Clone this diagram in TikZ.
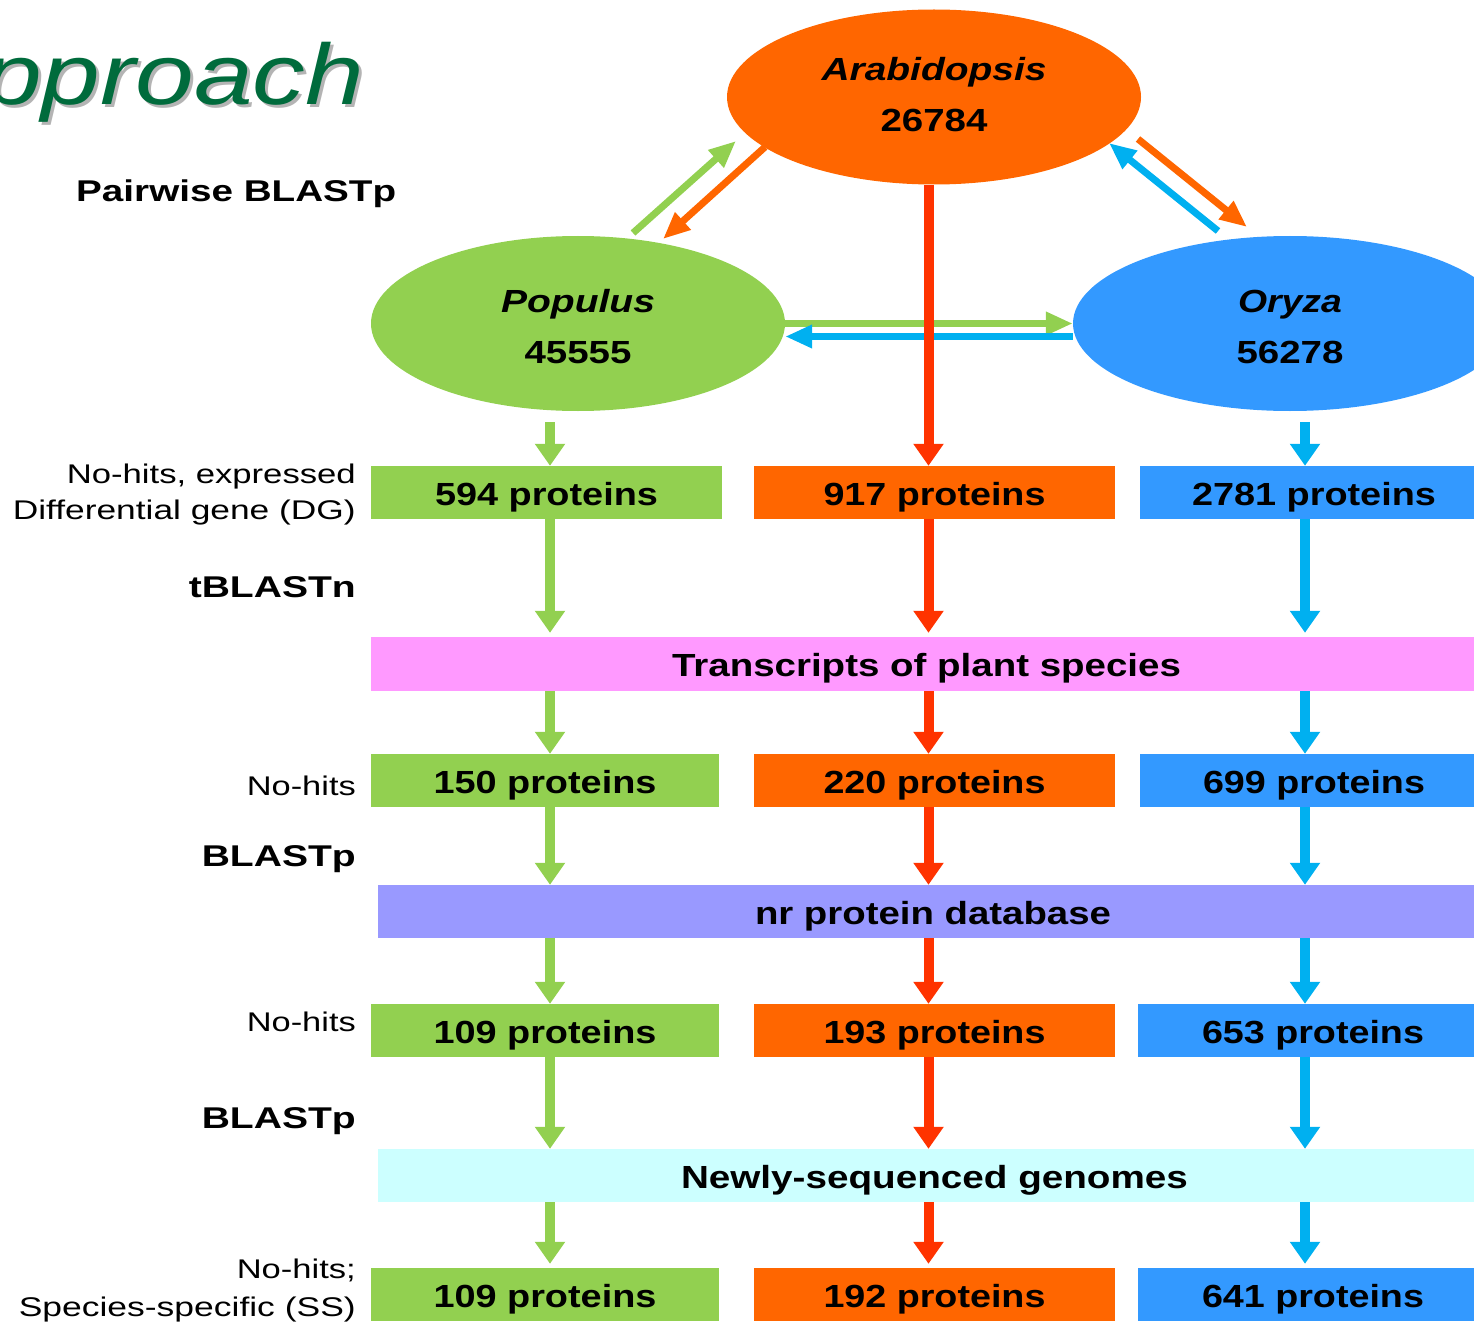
\documentclass[tikz,border=0pt]{standalone}
\usepackage{fontspec}
\setmainfont{Liberation Sans}
\usetikzlibrary{shapes.geometric,arrows.meta}
\definecolor{cgreen}{HTML}{92D050}
\definecolor{corange}{HTML}{FF6600}
\definecolor{cblue}{HTML}{3399FF}
\definecolor{cred}{HTML}{FF3300}
\definecolor{ccyan}{HTML}{00B0F0}
\definecolor{cpink}{HTML}{FF99FF}
\definecolor{clav}{HTML}{9999FF}
\definecolor{clight}{HTML}{CCFFFF}
\definecolor{ctitle}{HTML}{006B3C}
\definecolor{cshadow}{HTML}{B4B4B4}
\newcommand\W[2]{\resizebox{#1pt}{\height}{#2}}
\begin{document}
\begin{tikzpicture}[x=1pt,y=-1pt,
  ell/.style={ellipse, inner sep=0pt, minimum width=414pt, minimum height=175pt, align=center,
    font=\fontsize{32}{51}\selectfont\bfseries},
  pbox/.style={rectangle, inner sep=0pt, minimum height=53pt, text height=25pt, text depth=0pt,
    font=\fontsize{32}{36}\selectfont\bfseries},
  lblr/.style={inner sep=0pt, anchor=base east, font=\fontsize{27}{30}\selectfont},
  lblb/.style={inner sep=0pt, anchor=base east, font=\fontsize{30}{32}\selectfont\bfseries},
  varr/.style={line width=10pt, -{Triangle[width=29pt,length=22pt]}},
  darr/.style={line width=7pt, -{Triangle[width=22pt,length=27pt]}},
]
\useasboundingbox (0,0) rectangle (1474,1324);
\clip (0,0) rectangle (1474,1324);

% title
\node[inner sep=0pt, anchor=base west, text=cshadow, font=\fontsize{86}{90}\selectfont\itshape] (titleshadow) at (-14,108) {\W{381}{pproach}};
\node[inner sep=0pt, anchor=base west, text=ctitle, font=\fontsize{86}{90}\selectfont\itshape] (title) at (-17,105) {\W{381}{pproach}};

\node[inner sep=0pt, anchor=base west, font=\fontsize{30}{32}\selectfont\bfseries] (pairwise) at (76,202) {\W{320}{Pairwise BLASTp}};

% species ellipses
\node[ell, fill=corange] (ara) at (934,97) {\W{225}{\itshape Arabidopsis}\\\W{107}{26784}\rule[-6pt]{0pt}{6pt}};
\node[ell, fill=cgreen] (pop) at (578,323.5) {\rule{0pt}{30pt}\W{154}{\itshape Populus}\\\W{107}{45555}};
\node[ell, fill=cblue, minimum width=434pt] (ory) at (1290,323.5) {\rule{0pt}{30pt}\W{104}{\itshape Oryza}\\\W{107}{56278}};

% row 1
\node[pbox, fill=cgreen, minimum width=351pt] (g1) at (546.5,492.5) {\W{223}{594 proteins}};
\node[pbox, fill=corange, minimum width=361pt] (o1) at (934.5,492.5) {\W{222}{917 proteins}};
\node[pbox, fill=cblue, minimum width=348pt] (b1) at (1314,492.5) {\W{244}{2781 proteins}};
% band 1
\node[pbox, fill=cpink, minimum width=1111pt, minimum height=54pt] (tr) at (926.5,664) {\W{509}{Transcripts of plant species}};
% row 2
\node[pbox, fill=cgreen, minimum width=348pt] (g2) at (545,780.5) {\W{223}{150 proteins}};
\node[pbox, fill=corange, minimum width=361pt] (o2) at (934.5,780.5) {\W{222}{220 proteins}};
\node[pbox, fill=cblue, minimum width=348pt] (b2) at (1314,780.5) {\W{222}{699 proteins}};
% band 2
\node[pbox, fill=clav, minimum width=1110pt] (nr) at (933,911.5) {\W{356}{nr protein database}};
% row 3
\node[pbox, fill=cgreen, minimum width=348pt] (g3) at (545,1030.5) {\W{223}{109 proteins}};
\node[pbox, fill=corange, minimum width=361pt] (o3) at (934.5,1030.5) {\W{222}{193 proteins}};
\node[pbox, fill=cblue, minimum width=350pt] (b3) at (1313,1030.5) {\W{222}{653 proteins}};
% band 3
\node[pbox, fill=clight, minimum width=1113pt] (nw) at (934.5,1175.5) {\W{507}{Newly-sequenced genomes}};
% row 4
\node[pbox, fill=cgreen, minimum width=348pt] (g4) at (545,1294.5) {\W{223}{109 proteins}};
\node[pbox, fill=corange, minimum width=361pt] (o4) at (934.5,1294.5) {\W{222}{192 proteins}};
\node[pbox, fill=cblue, minimum width=350pt] (b4) at (1313,1294.5) {\W{222}{641 proteins}};

% left labels
\node[lblr] (l1a) at (356,483) {\W{289}{No-hits, expressed}};
\node[lblr] (l1b) at (356,519) {\W{343}{Differential gene (DG)}};
\node[lblb] (l2) at (356,597) {\W{167}{tBLASTn}};
\node[lblr] (l3) at (356,795) {\W{109}{No-hits}};
\node[lblb] (l4) at (356,866) {\W{154}{BLASTp}};
\node[lblr] (l5) at (356,1031) {\W{109}{No-hits}};
\node[lblb] (l6) at (356,1128) {\W{154}{BLASTp}};
\node[lblr] (l7a) at (356,1278) {\W{119}{No-hits;}};
\node[lblr] (l7b) at (356,1316) {\W{337}{Species-specific (SS)}};

% column positions
\coordinate (gc) at (550,0);
\coordinate (rc) at (928.5,0);
\coordinate (bc) at (1305,0);
\coordinate (popb) at ([yshift=-11pt]pop.south);
\coordinate (oryb) at ([yshift=-11pt]ory.south);

% pairwise arrows
\coordinate (pa1) at (633,233); \coordinate (pa2) at (736,141);
\coordinate (ap1) at (765,147); \coordinate (ap2) at (663,239);
\coordinate (oa1) at (1218,231); \coordinate (oa2) at (1109,143);
\coordinate (ao1) at (1138,139); \coordinate (ao2) at (1247,227);
\draw[darr, cgreen] (pa1) -- (pa2);
\draw[darr, corange] (ap1) -- (ap2);
\draw[darr, ccyan] (oa1) -- (oa2);
\draw[darr, corange] (ao1) -- (ao2);
\draw[darr, cgreen] (pop.east) -- (ory.west);
\draw[darr, ccyan] ([yshift=-13pt]ory.west) -- ([yshift=-13pt]pop.east);

% green column
\draw[varr, cgreen] (popb -| gc) -- (g1.north -| gc);
\draw[varr, cgreen, shorten >=4pt] (g1.south -| gc) -- (tr.north -| gc);
\draw[varr, cgreen] (tr.south -| gc) -- (g2.north -| gc);
\draw[varr, cgreen] (g2.south -| gc) -- (nr.north -| gc);
\draw[varr, cgreen] (nr.south -| gc) -- (g3.north -| gc);
\draw[varr, cgreen] (g3.south -| gc) -- (nw.north -| gc);
\draw[varr, cgreen, shorten >=4pt] (nw.south -| gc) -- (g4.north -| gc);

% blue column
\draw[varr, ccyan] (oryb -| bc) -- (b1.north -| bc);
\draw[varr, ccyan, shorten >=4pt] (b1.south -| bc) -- (tr.north -| bc);
\draw[varr, ccyan] (tr.south -| bc) -- (b2.north -| bc);
\draw[varr, ccyan] (b2.south -| bc) -- (nr.north -| bc);
\draw[varr, ccyan] (nr.south -| bc) -- (b3.north -| bc);
\draw[varr, ccyan] (b3.south -| bc) -- (nw.north -| bc);
\draw[varr, ccyan, shorten >=4pt] (nw.south -| bc) -- (b4.north -| bc);

% red column
\draw[varr, cred] (ara.south -| rc) -- (o1.north -| rc);
\draw[varr, cred, shorten >=4pt] (o1.south -| rc) -- (tr.north -| rc);
\draw[varr, cred] (tr.south -| rc) -- (o2.north -| rc);
\draw[varr, cred] (o2.south -| rc) -- (nr.north -| rc);
\draw[varr, cred] (nr.south -| rc) -- (o3.north -| rc);
\draw[varr, cred] (o3.south -| rc) -- (nw.north -| rc);
\draw[varr, cred, shorten >=4pt] (nw.south -| rc) -- (o4.north -| rc);
\end{tikzpicture}
\end{document}
